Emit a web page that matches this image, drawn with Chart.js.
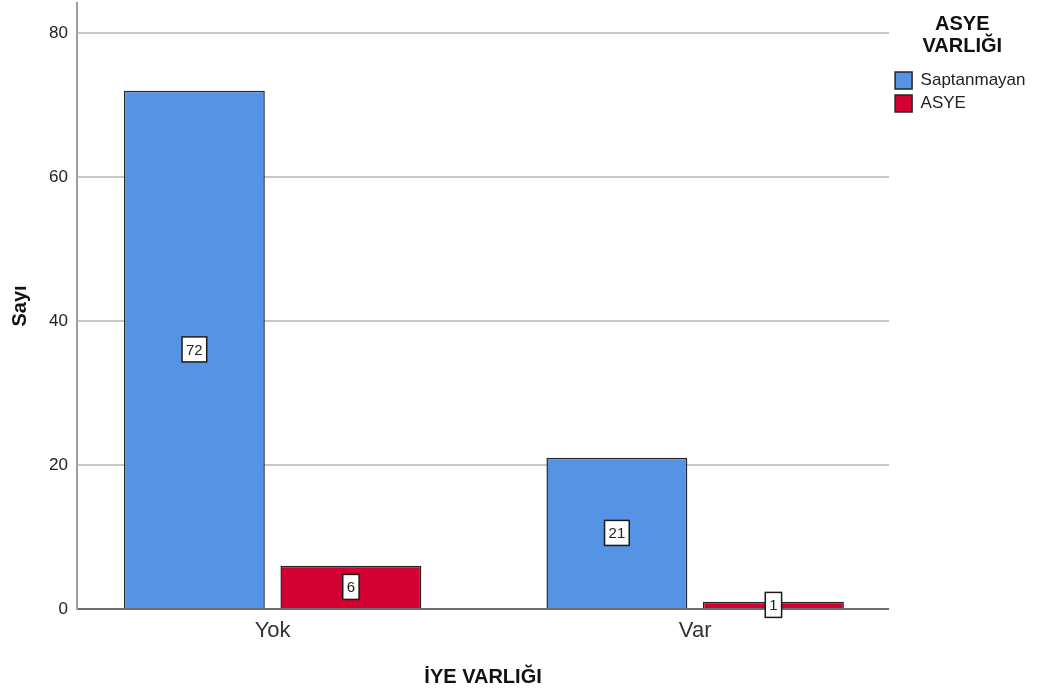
<!DOCTYPE html>
<html>
<head>
<meta charset="utf-8">
<script src="https://cdn.jsdelivr.net/npm/chart.js@4/dist/chart.umd.min.js"></script>
<style>
  html, body { margin: 0; padding: 0; background: #ffffff; }
  #wrap { width: 1047px; height: 698px; position: relative; }
</style>
</head>
<body>
<div id="wrap"><canvas id="c" width="1047" height="698"></canvas></div>
<script>
// ---- data ----
const categories = ['Yok', 'Var'];
const seriesNames = ['Saptanmayan', 'ASYE'];
const saptanmayanValues = [72, 21];
const asyeValues = [6, 1];
const yTickValues = [0, 20, 40, 60, 80];
const xTitle = 'İYE VARLIĞI';
const yTitle = 'Sayı';
const legendTitle = ['ASYE', 'VARLIĞI'];

const toPoints = (vals) => vals.map((v, i) => ({ x: i, y: v }));
const FONT = '"Liberation Sans", Arial, sans-serif';

const valueLabels = {
  id: 'valueLabels',
  afterDatasetsDraw(chart) {
    const ctx = chart.ctx;
    ctx.save();
    ctx.font = '15px ' + FONT;
    ctx.textAlign = 'center';
    ctx.textBaseline = 'middle';
    chart.data.datasets.forEach((ds, di) => {
      const meta = chart.getDatasetMeta(di);
      meta.data.forEach((el, i) => {
        const txt = String(ds.data[i].y);
        const cx = el.x;
        const cy = (el.y + el.base) / 2;
        const w = ctx.measureText(txt).width + 8;
        const h = 25;
        ctx.fillStyle = '#ffffff';
        ctx.fillRect(cx - w / 2, cy - h / 2, w, h);
        ctx.lineWidth = 1.5;
        ctx.strokeStyle = '#1a1a1a';
        ctx.strokeRect(cx - w / 2, cy - h / 2, w, h);
        ctx.fillStyle = '#222222';
        ctx.fillText(txt, cx, cy + 1);
      });
    });
    ctx.restore();
  }
};

new Chart(document.getElementById('c'), {
  type: 'bar',
  data: {
    datasets: [
      {
        label: seriesNames[0],
        data: toPoints(saptanmayanValues),
        backgroundColor: '#5594E4',
        borderColor: '#262626',
        borderWidth: 1.5
      },
      {
        label: seriesNames[1],
        data: toPoints(asyeValues),
        backgroundColor: '#D50032',
        borderColor: '#262626',
        borderWidth: 1.5
      }
    ]
  },
  options: {
    responsive: false,
    animation: false,
    devicePixelRatio: 1,
    categoryPercentage: 0.741,
    barPercentage: 0.9,
    layout: { padding: { top: 3, right: 11.5, bottom: 0, left: 0 } },
    plugins: {
      tooltip: { enabled: false },
      legend: {
        position: 'right',
        align: 'start',
        title: {
          display: true,
          text: legendTitle,
          color: '#111111',
          font: { family: FONT, size: 20, weight: 'bold', lineHeight: 1.1 },
          padding: { top: 11.5, bottom: 29.5 }
        },
        labels: {
          boxWidth: 17,
          boxHeight: 17,
          padding: 6,
          color: '#222222',
          font: { family: FONT, size: 17 }
        }
      }
    },
    scales: {
      x: {
        type: 'linear',
        min: -0.463,
        max: 1.459,
        offset: false,
        grid: { display: false, drawTicks: false, offset: false },
        border: { display: false },
        afterBuildTicks: (scale) => { scale.ticks = categories.map((c, i) => ({ value: i })); },
        afterFit: (scale) => { scale.height = 89; scale.paddingLeft = 0; scale.paddingRight = 0; },
        ticks: {
          padding: 9,
          color: '#333333',
          font: { family: FONT, size: 22 },
          callback: (v) => categories[v] ?? ''
        },
        title: {
          display: true,
          text: xTitle,
          color: '#111111',
          font: { family: FONT, size: 20, weight: 'bold' },
          padding: { top: 0, bottom: 8.5 }
        }
      },
      y: {
        min: 0,
        max: 84.2,
        afterBuildTicks: (scale) => { scale.ticks = yTickValues.map(v => ({ value: v })); },
        afterFit: (scale) => { scale.width = 77; scale.paddingTop = 0; scale.paddingBottom = 0; },
        grid: {
          drawTicks: false,
          lineWidth: 2,
          color: (c) => (c.tick && c.tick.value === 0 ? '#6e6e6e' : '#c8c8c8')
        },
        border: { display: true, color: '#a0a0a0', width: 2 },
        ticks: {
          padding: 9,
          color: '#222222',
          font: { family: FONT, size: 17 }
        },
        title: {
          display: true,
          text: yTitle,
          color: '#111111',
          font: { family: FONT, size: 20, weight: 'bold' },
          padding: { top: 8.5, bottom: 0 }
        }
      }
    }
  },
  plugins: [valueLabels]
});
</script>
</body>
</html>
